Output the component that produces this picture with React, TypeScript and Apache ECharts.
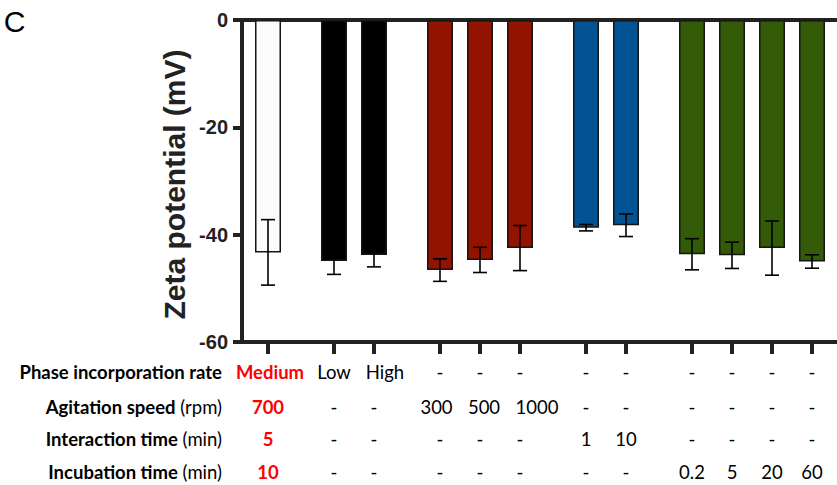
import React, { useEffect, useRef } from "react";
import * as echarts from "echarts";

// ---- data ----
const barPositions = [0.65, 2.3, 3.3, 4.95, 5.95, 6.95, 8.6, 9.6, 11.25, 12.25, 13.25, 14.25];
const barGroups = ["control", "phase", "phase", "agitation", "agitation", "agitation", "interaction", "interaction", "incubation", "incubation", "incubation", "incubation"];
const zetaMeans = [-43.3, -44.9, -43.8, -46.6, -44.7, -42.5, -38.7, -38.25, -43.65, -43.85, -42.5, -45.0];
const zetaSD = [6.1, 2.5, 2.2, 2.1, 2.35, 4.2, 0.6, 2.1, 2.9, 2.45, 5.05, 1.25];

const rowLabelsBold = ["Phase incorporation rate", "Agitation speed", "Interaction time", "Incubation time"];
const rowUnits = ["", "(rpm)", "(min)", "(min)"];
const phaseRate = ["Medium", "Low", "High", "-", "-", "-", "-", "-", "-", "-", "-", "-"];
const agitationSpeed = ["700", "-", "-", "300", "500", "1000", "-", "-", "-", "-", "-", "-"];
const interactionTime = ["5", "-", "-", "-", "-", "-", "1", "10", "-", "-", "-", "-"];
const incubationTime = ["10", "-", "-", "-", "-", "-", "-", "-", "0.2", "5", "20", "60"];

// ---- styles / layout ----
const groupColors: Record<string, string> = {
  control: "#fbfbfb",
  phase: "#000000",
  agitation: "#921300",
  interaction: "#025394",
  incubation: "#335a06",
};
const AXIS = "#222222";
const tableFont = "Lato";
const tableSize = 18.5;
// small horizontal nudges of table cells (px), as typeset in the original
const cellNudge: Record<string, number> = { "0,0": 2, "0,2": 11, "1,3": -3.5, "1,4": 4, "1,5": 17 };

export default function App() {
  const ref = useRef<HTMLDivElement>(null);
  useEffect(() => {
    if (!ref.current) return;
    const chart = echarts.init(ref.current, null, { renderer: "svg" });
    const xMax = 14.875;
    chart.setOption({
      animation: false,
      grid: { left: 242, right: 0, top: 20, bottom: 143, containLabel: false },
      xAxis: [
        {
          type: "value",
          min: 0,
          max: xMax,
          position: "bottom",
          axisLine: { show: true, onZero: false, lineStyle: { color: AXIS, width: 4 } },
          axisTick: { show: true, customValues: barPositions, length: 12, lineStyle: { color: AXIS, width: 4 } },
          axisLabel: { show: false },
          splitLine: { show: false },
        },
        {
          type: "value",
          min: 0,
          max: xMax,
          position: "top",
          axisLine: { show: true, onZero: false, lineStyle: { color: AXIS, width: 4 } },
          axisTick: { show: false },
          axisLabel: { show: false },
          splitLine: { show: false },
        },
      ],
      yAxis: {
        type: "value",
        min: -60,
        max: 0,
        interval: 20,
        axisLine: { show: true, lineStyle: { color: AXIS, width: 4 } },
        axisTick: { show: true, length: 9, lineStyle: { color: AXIS, width: 4 } },
        axisLabel: {
          margin: 14,
          color: AXIS,
          fontFamily: "Liberation Sans, Arial, sans-serif",
          fontWeight: "bold",
          fontSize: 20,
        },
        splitLine: { show: false },
      },
      series: [
        {
          type: "bar",
          xAxisIndex: 0,
          barWidth: 26,
          data: barPositions.map((p, i) => ({
            value: [p, zetaMeans[i]],
            itemStyle: {
              color: groupColors[barGroups[i]],
              borderColor: "#151515",
              borderWidth: 1.5,
            },
          })),
        },
        {
          type: "custom",
          xAxisIndex: 0,
          z: 5,
          data: barPositions.map((p, i) => [p, zetaMeans[i], zetaSD[i]]),
          encode: { x: 0, y: 1 },
          renderItem: (params: any, api: any) => {
            const x = api.value(0);
            const m = api.value(1);
            const s = api.value(2);
            const top = api.coord([x, m + s]);
            const bot = api.coord([x, m - s]);
            const hw = 7;
            const st = { stroke: "#000", lineWidth: 1.6 };
            return {
              type: "group",
              children: [
                { type: "line", shape: { x1: top[0], y1: top[1], x2: bot[0], y2: bot[1] }, style: st },
                { type: "line", shape: { x1: top[0] - hw, y1: top[1], x2: top[0] + hw, y2: top[1] }, style: st },
                { type: "line", shape: { x1: bot[0] - hw, y1: bot[1], x2: bot[0] + hw, y2: bot[1] }, style: st },
              ],
            };
          },
        },
      ],
    });

    const rows = [phaseRate, agitationSpeed, interactionTime, incubationTime];
    const rowY = [372, 406.5, 438.5, 472];
    const graphics: any[] = [
      {
        type: "text",
        x: 14.5,
        y: 21,
        style: {
          text: "C",
          font: "30px 'Liberation Sans', Arial, sans-serif",
          fill: "#000",
          align: "center",
          verticalAlign: "middle",
          textAlign: "center",
          textVerticalAlign: "middle",
        },
      },
      {
        type: "text",
        x: 174,
        y: 184.5,
        rotation: Math.PI / 2,
        style: {
          text: "Zeta potential (mV)",
          font: "bold 30px 'Liberation Sans', Arial, sans-serif",
          fill: AXIS,
          align: "center",
          verticalAlign: "middle",
          textAlign: "center",
          textVerticalAlign: "middle",
        },
      },
    ];
    rowLabelsBold.forEach((lbl, r) => {
      const txt = rowUnits[r] ? `{b|${lbl}}{n| ${rowUnits[r]}}` : `{b|${lbl}}`;
      graphics.push({
        type: "text",
        x: 222,
        y: rowY[r],
        style: {
          text: txt,
          rich: {
            b: { fontFamily: tableFont, fontWeight: "bold", fontSize: tableSize, fill: "#000", color: "#000" },
            n: { fontFamily: tableFont, fontWeight: "normal", fontSize: tableSize, fill: "#000", color: "#000" },
          },
          font: `bold ${tableSize}px ${tableFont}`,
          align: "right",
          verticalAlign: "middle",
          textAlign: "right",
          textVerticalAlign: "middle",
        },
      });
    });
    rows.forEach((row, r) => {
      row.forEach((v, i) => {
        const px = chart.convertToPixel({ xAxisIndex: 0 }, barPositions[i]) as number;
        const first = i === 0;
        graphics.push({
          type: "text",
          x: px + (cellNudge[`${r},${i}`] || 0),
          y: rowY[r],
          style: {
            text: v,
            font: `${first ? "bold " : ""}${tableSize}px ${tableFont}`,
            fill: first ? "#ff0000" : "#000",
            align: "center",
            verticalAlign: "middle",
            textAlign: "center",
            textVerticalAlign: "middle",
          },
        });
      });
    });
    chart.setOption({ graphic: graphics });

    return () => chart.dispose();
  }, []);

  return (
    <div
      ref={ref}
      style={{ position: "fixed", left: 0, top: 0, width: 837, height: 485, background: "#fff" }}
    />
  );
}
